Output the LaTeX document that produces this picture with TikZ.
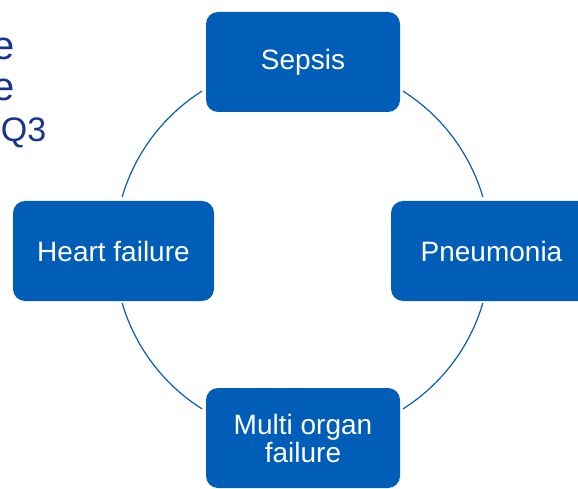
\documentclass[tikz,border=0pt]{standalone}
\usepackage{fontspec}
\setmainfont{Liberation Sans}
\definecolor{boxblue}{RGB}{0,94,184}
\definecolor{ringblue}{RGB}{10,92,182}
\definecolor{headblue}{RGB}{24,52,140}
\begin{document}
\begin{tikzpicture}[x=1pt,y=1pt,
  stage/.style={draw=none,fill=boxblue,rounded corners=12pt,text=white,
    align=center,inner sep=0pt,
    font=\fontsize{28}{28}\selectfont},
  ring/.style={draw=ringblue,line width=1.2pt},
  headline/.style={text=headblue,inner sep=0pt,anchor=base east}]
\path[use as bounding box,clip] (0,0) rectangle (578,488);

% partial heading at the left edge
\node[headline,font=\fontsize{40}{40}\selectfont] (h1) at (14.5,428) {e};
\node[headline,font=\fontsize{40}{40}\selectfont] (h2) at (14.5,387) {e};
\node[headline,font=\fontsize{34}{34}\selectfont] (h3) at (46.5,346) {Q3};

% cycle centre
\coordinate (c) at (302.5,238);

% the four stages
\node[stage,minimum width=194pt,minimum height=100pt] (sepsis) at (303,426) {Sepsis};
\node[stage,minimum width=201pt,minimum height=100pt] (pneu) at (491.5,237) {Pneumonia};
\node[stage,minimum width=194pt,minimum height=100pt] (mof) at (303,50) {Multi organ\\failure};
\node[stage,minimum width=201pt,minimum height=100pt] (heart) at (113.5,237) {Heart failure};

% circular arcs joining the stages
\draw[ring] (c) ++(57.7:188pt) arc[start angle=57.7,end angle=16.4,radius=188pt];
\draw[ring] (c) ++(-16.4:188pt) arc[start angle=-16.4,end angle=-57.7,radius=188pt];
\draw[ring] (c) ++(237.7:188pt) arc[start angle=237.7,end angle=196.4,radius=188pt];
\draw[ring] (c) ++(163.6:188pt) arc[start angle=163.6,end angle=122.3,radius=188pt];
\end{tikzpicture}
\end{document}
